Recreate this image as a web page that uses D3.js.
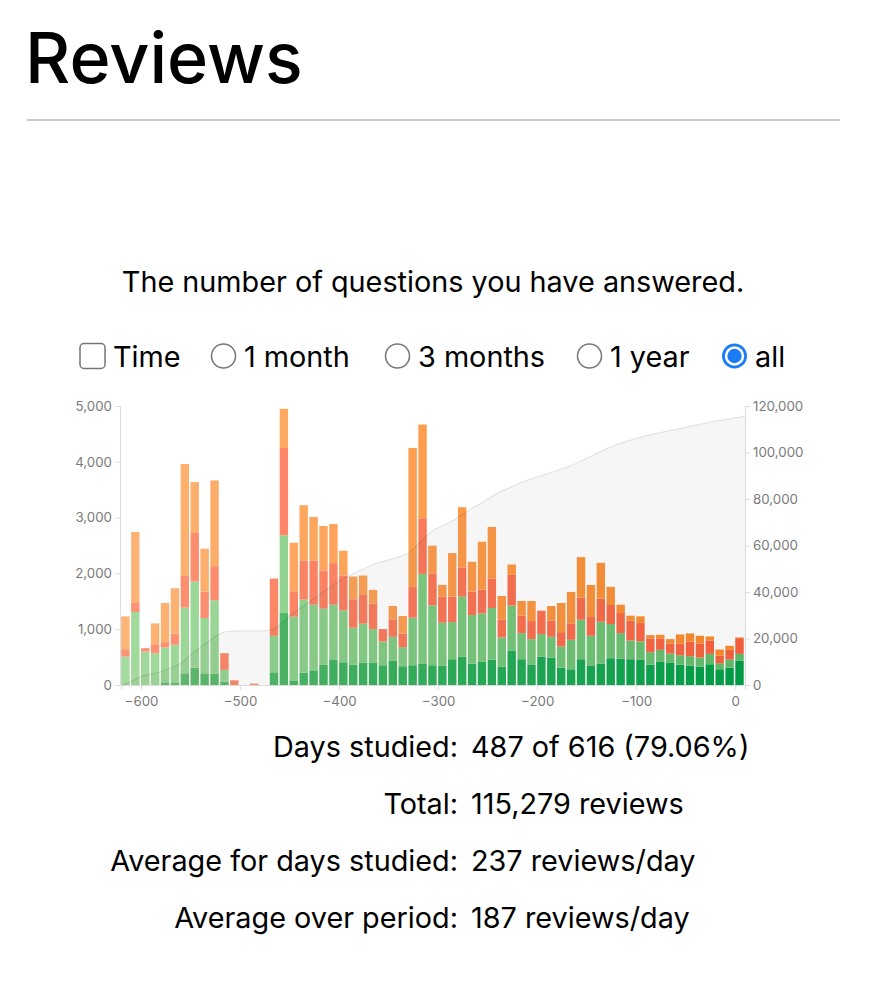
<!DOCTYPE html>
<html><head><meta charset="utf-8">
<script src="https://cdn.jsdelivr.net/npm/d3@7"></script>
<style>
html,body{margin:0;padding:0;background:#fff;}
svg{display:block;font-family:Inter,"Noto Sans",sans-serif;}
</style></head><body>
<svg id="c" width="878" height="1008"></svg>
<script>
// ---- data ----
const binStart = [-620,-610,-600,-590,-580,-570,-560,-550,-540,-530,-520,-510,-500,-490,-480,-470,-460,-450,-440,-430,-420,-410,-400,-390,-380,-370,-360,-350,-340,-330,-320,-310,-300,-290,-280,-270,-260,-250,-240,-230,-220,-210,-200,-190,-180,-170,-160,-150,-140,-130,-120,-110,-100,-90,-80,-70,-60,-50,-40,-30,-20,-10,0];
const binSize = 10;
const mature = [0,0,0,0,48,48,210,312,210,198,60,0,0,0,0,
  228,1290,72,222,264,360,450,408,360,396,
  396,354,432,336,354,378,354,342,462,510,
  384,414,456,324,612,462,360,510,492,312,
  282,462,342,384,480,474,462,450,366,414,
  396,366,348,330,372,282,312,438];
const young = [510,1308,600,570,624,672,1176,1542,990,1320,210,0,0,0,0,
  654,1392,1152,1308,1176,1008,990,930,666,702,
  606,426,432,342,852,1614,1074,774,666,1074,
  870,870,924,528,810,468,462,402,372,378,
  528,708,540,750,612,456,336,330,222,216,
  168,168,168,162,186,108,144,120];
const relearn = [132,174,60,160,96,204,570,870,474,612,300,84,0,24,0,
  1026,1566,456,702,792,684,744,624,510,528,
  456,222,312,246,552,996,570,468,456,522,
  420,426,528,318,552,312,324,420,288,258,
  294,396,336,414,342,360,354,330,246,198,
  180,210,264,252,240,138,174,282];
const learn = [588,1260,0,374,702,810,2004,912,768,1536,0,0,0,0,0,
  0,702,870,990,780,798,702,444,408,336,
  246,0,240,312,2490,1680,498,210,780,1080,
  534,858,924,426,186,264,360,0,264,522,
  564,726,576,642,324,150,90,120,60,72,
  78,162,144,138,72,108,72,12];
const xTicks = [-600,-500,-400,-300,-200,-100,0];
const yTicks = [0,1000,2000,3000,4000,5000];
const y2Ticks = [0,20000,40000,60000,80000,100000,120000];
const seriesKeys = ["mature","young","relearn","learn"];
const title = "Reviews";
const subtitle = "The number of questions you have answered.";
const controls = [["checkbox","Time",false],["radio","1 month",false],["radio","3 months",false],["radio","1 year",false],["radio","all",true]];
const statLabels = ["Days studied:","Total:","Average for days studied:","Average over period:"];
const statValues = ["487 of 616 (79.06%)","115,279 reviews","237 reviews/day","187 reviews/day"];

// ---- styles ----
const bodySize = 28.8;
const colorDomain = [-620,-300,0];
const colorStops = {
  mature: ["#6cc072","#2fb15c","#00a048"],
  young: ["#a3da9d","#7ecb80","#62be6c"],
  relearn: ["#fc9475","#fb7858","#f9623e"],
  learn: ["#fdb476","#fd9c4c","#fb8a2a"]
};

const svg = d3.select("#c");

// header
svg.append("text").attr("x",25).attr("y",83).attr("font-size",70).attr("font-weight",500).attr("fill","#000").text(title);
svg.append("line").attr("x1",27).attr("x2",840).attr("y1",120).attr("y2",120).attr("stroke","#cbcbcb").attr("stroke-width",2);
svg.append("text").attr("x",433).attr("y",292).attr("text-anchor","middle").attr("font-size",bodySize).attr("fill","#000").text(subtitle);

// controls
const ctrlX = [92.5,223.5,397.5,589.5,734.5];
const ctrlTextX = [113,244,418,610,755];
controls.forEach((c,i)=>{
  const g = svg.append("g");
  if(c[0]==="checkbox"){
    g.append("rect").attr("x",ctrlX[i]-12.5).attr("y",343.5).attr("width",25).attr("height",25).attr("rx",4)
      .attr("fill","#fff").attr("stroke","#767676").attr("stroke-width",1.5);
  } else if(!c[2]){
    g.append("circle").attr("cx",ctrlX[i]).attr("cy",356).attr("r",12).attr("fill","#fff").attr("stroke","#767676").attr("stroke-width",1.5);
  } else {
    g.append("circle").attr("cx",ctrlX[i]).attr("cy",356).attr("r",12.5).attr("fill","#1a7cf5");
    g.append("circle").attr("cx",ctrlX[i]).attr("cy",356).attr("r",9.7).attr("fill","#fff");
    g.append("circle").attr("cx",ctrlX[i]).attr("cy",356).attr("r",7.2).attr("fill","#1a7cf5");
  }
  g.append("text").attr("x",ctrlTextX[i]).attr("y",367).attr("font-size",bodySize).attr("fill","#000").text(c[1]);
});

// chart
const x = d3.scaleLinear().domain([-620,10]).range([121.2,745.2]);
const y = d3.scaleLinear().domain([0,5000]).range([685,406]);
const y2 = d3.scaleLinear().domain([0,120000]).range([685,406]);
const colors = {};
seriesKeys.forEach(k=>{ colors[k] = d3.scaleLinear().domain(colorDomain).range(colorStops[k]).interpolate(d3.interpolateRgb); });

const rows = binStart.map((s,i)=>({x0:s,x1:s+binSize,mature:mature[i],young:young[i],relearn:relearn[i],learn:learn[i]}));
const stacked = d3.stack().keys(seriesKeys)(rows);

const axisStyle = g=>{
  g.selectAll("path.domain").attr("stroke","#dcdcdc");
  g.selectAll(".tick line").attr("stroke","#dcdcdc");
  g.selectAll(".tick text").attr("fill","#7a7a7a").attr("font-size",13.3).attr("font-family","Inter,'Noto Sans',sans-serif");
};
svg.append("g").attr("transform","translate(120,0)")
  .call(d3.axisLeft(y).tickValues(yTicks).tickFormat(d3.format(",")).tickSizeOuter(0).tickSize(5))
  .call(axisStyle);
svg.append("g").attr("transform","translate(745,0)")
  .call(d3.axisRight(y2).tickValues(y2Ticks).tickFormat(d3.format(",")).tickSizeOuter(0).tickSize(5))
  .call(axisStyle);
svg.append("g").attr("transform","translate(0,685)")
  .call(d3.axisBottom(x).tickValues(xTicks).tickSizeOuter(0).tickSize(5))
  .call(g=>g.selectAll(".tick text").attr("dy","1em"))
  .call(axisStyle);

const bars = svg.append("g");
stacked.forEach(layer=>{
  bars.append("g").selectAll("rect").data(layer).join("rect")
    .attr("x",d=>x(d.data.x0))
    .attr("width",d=>Math.max(0,x(d.data.x1)-x(d.data.x0)-1.5))
    .attr("y",d=>y(d[1]))
    .attr("height",d=>y(d[0])-y(d[1]))
    .attr("fill",d=>colors[layer.key](d.data.x0));
});

// cumulative overlay
let acc = 0;
const cum = [[binStart[0],0]];
rows.forEach(r=>{ acc += r.mature+r.young+r.relearn+r.learn; cum.push([r.x1,acc]); });
svg.append("path").datum(cum)
  .attr("d",d3.area().curve(d3.curveBasis).x(d=>x(d[0])).y0(685).y1(d=>y2(d[1])))
  .attr("fill","#000").attr("fill-opacity",0.037);
svg.append("path").datum(cum)
  .attr("d",d3.line().curve(d3.curveBasis).x(d=>x(d[0])).y(d=>y2(d[1])))
  .attr("fill","none").attr("stroke","#000").attr("stroke-opacity",0.09).attr("stroke-width",1.3);

// stats
const statY = [757,814,871,928];
statLabels.forEach((l,i)=>{
  svg.append("text").attr("x",458).attr("y",statY[i]).attr("text-anchor","end").attr("font-size",bodySize).attr("fill","#000").text(l);
  svg.append("text").attr("x",471).attr("y",statY[i]).attr("font-size",bodySize).attr("fill","#000").text(statValues[i]);
});
</script>
</body></html>
